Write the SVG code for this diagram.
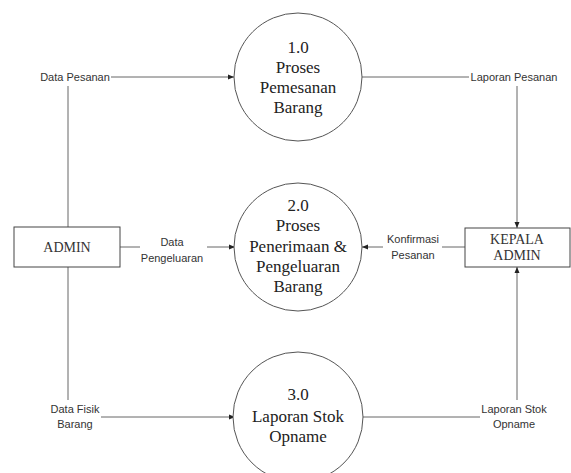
<svg xmlns="http://www.w3.org/2000/svg" width="571" height="473" viewBox="0 0 571 473">
<defs>
<marker id="arr" markerWidth="6" markerHeight="6" refX="6" refY="3" orient="auto" markerUnits="userSpaceOnUse">
<path d="M0,0.5 L6,3 L0,5.5 Z" fill="#222"/>
</marker>
</defs>
<style>
.proc{fill:#fff;stroke:#555;stroke-width:1}
.ent{fill:#fff;stroke:#444;stroke-width:1}
.pt{font-family:"Liberation Serif","Times New Roman",serif;font-size:17px;fill:#222;text-anchor:middle}
.et{font-family:"Liberation Serif","Times New Roman",serif;font-size:14px;fill:#333;text-anchor:middle}
.lb{font-family:"Liberation Sans",Arial,sans-serif;font-size:11px;fill:#333;text-anchor:middle}
.c{fill:none;stroke:#666;stroke-width:1}
</style>
<rect width="571" height="473" fill="#fff"/>
<g id="connectors">
<line class="c" x1="111" y1="77" x2="234" y2="77" marker-end="url(#arr)"/>
<line class="c" x1="68" y1="86" x2="68" y2="227"/>
<line class="c" x1="68" y1="267" x2="68" y2="400"/>
<line class="c" x1="362" y1="77" x2="469" y2="77"/>
<line class="c" x1="517" y1="86" x2="517" y2="228" marker-end="url(#arr)"/>
<line class="c" x1="120" y1="247" x2="140" y2="247"/>
<line class="c" x1="207" y1="247" x2="235" y2="247" marker-end="url(#arr)"/>
<line class="c" x1="465" y1="247" x2="442" y2="247"/>
<line class="c" x1="383" y1="247" x2="362" y2="247" marker-end="url(#arr)"/>
<line class="c" x1="517" y1="400" x2="517" y2="267" marker-end="url(#arr)"/>
<line class="c" x1="101" y1="417" x2="235" y2="417" marker-end="url(#arr)"/>
<line class="c" x1="362" y1="417" x2="480" y2="417"/>
<text class="lb" x="75" y="81">Data Pesanan</text>
<text class="lb" x="514" y="81">Laporan Pesanan</text>
<text class="lb" x="172" y="246">Data</text>
<text class="lb" x="172" y="262">Pengeluaran</text>
<text class="lb" x="413" y="243">Konfirmasi</text>
<text class="lb" x="413" y="259">Pesanan</text>
<text class="lb" x="75" y="413">Data Fisik</text>
<text class="lb" x="75" y="428">Barang</text>
<text class="lb" x="514" y="413">Laporan Stok</text>
<text class="lb" x="514" y="428">Opname</text>
</g>
<g id="p1">
<circle class="proc" cx="298" cy="77" r="64"/>
<text class="pt" x="298" y="53">1.0</text>
<text class="pt" x="298" y="73">Proses</text>
<text class="pt" x="298" y="93">Pemesanan</text>
<text class="pt" x="298" y="113">Barang</text>
</g>
<g id="p2">
<circle class="proc" cx="298" cy="247" r="64"/>
<text class="pt" x="298" y="211">2.0</text>
<text class="pt" x="298" y="231">Proses</text>
<text class="pt" x="298" y="252">Penerimaan &amp;</text>
<text class="pt" x="298" y="272">Pengeluaran</text>
<text class="pt" x="298" y="292">Barang</text>
</g>
<g id="p3">
<circle class="proc" cx="298" cy="417" r="65"/>
<text class="pt" x="298" y="400">3.0</text>
<text class="pt" x="298" y="422">Laporan Stok</text>
<text class="pt" x="298" y="442">Opname</text>
</g>
<g id="admin">
<rect class="ent" x="14" y="227" width="106" height="40"/>
<text class="et" x="67" y="252">ADMIN</text>
</g>
<g id="kepala">
<rect class="ent" x="465" y="228" width="105" height="39"/>
<text class="et" x="517" y="244">KEPALA</text>
<text class="et" x="517" y="260">ADMIN</text>
</g>
</svg>
